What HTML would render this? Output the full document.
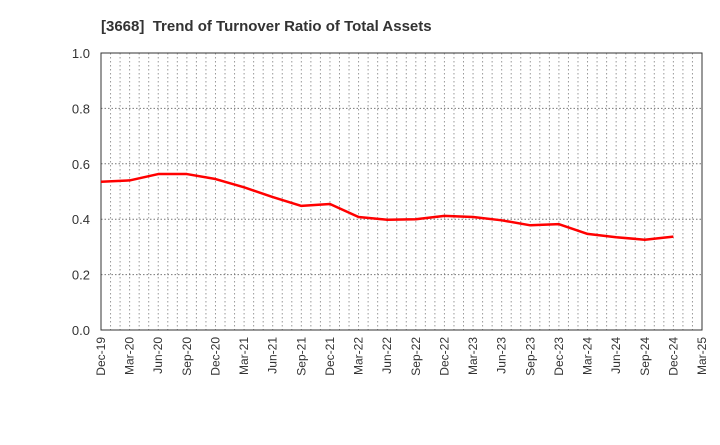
<!DOCTYPE html>
<html><head><meta charset="utf-8"><style>
body{margin:0;background:#fff;font-family:"Liberation Sans",Arial,sans-serif}
</style></head><body>
<svg id="c" width="720" height="440" xmlns="http://www.w3.org/2000/svg">
<text x="101" y="31" font-size="15" font-weight="bold" fill="#333" style="white-space:pre">[3668]  Trend of Turnover Ratio of Total Assets</text>
<g id="grid"></g><g id="axes"></g><g id="series"></g>
</svg>
<script>
const categories=["Dec-19","Mar-20","Jun-20","Sep-20","Dec-20","Mar-21","Jun-21","Sep-21","Dec-21","Mar-22","Jun-22","Sep-22","Dec-22","Mar-23","Jun-23","Sep-23","Dec-23","Mar-24","Jun-24","Sep-24","Dec-24","Mar-25"];
const values=[0.535,0.54,0.563,0.563,0.545,0.515,0.48,0.448,0.455,0.408,0.398,0.4,0.412,0.408,0.396,0.378,0.382,0.347,0.335,0.326,0.337];
const yTicks=[0,0.2,0.4,0.6,0.8,1.0];
const yTickLabels=["0.0","0.2","0.4","0.6","0.8","1.0"];
const L=101,R=702,T=53,B=330;
const NS="http://www.w3.org/2000/svg";
const x=i=>L+(R-L)*i/(categories.length-1);
const y=v=>B-(B-T)*v/1.0;
function mk(tag,attrs,parent){const e=document.createElementNS(NS,tag);for(const k in attrs)e.setAttribute(k,attrs[k]);parent.appendChild(e);return e;}
const g=document.getElementById('grid'),a=document.getElementById('axes'),s=document.getElementById('series');
const nm=(categories.length-1)*3;
for(let m=1;m<nm;m++){const xx=L+(R-L)*m/nm;
const ln=mk('line',{x1:xx,x2:xx,y1:T,y2:B,stroke:'#999','stroke-dasharray':'1.5,2.5','stroke-width':1},g);

}
yTicks.forEach((v,i)=>{
if(v>0&&v<1){const ln=mk('line',{x1:L,x2:R,y1:y(v),y2:y(v),stroke:'#777','stroke-dasharray':'1.5,2','stroke-width':1},g);

}
const t=mk('text',{x:L-11,y:y(v)+5,'font-size':13,fill:'#333','text-anchor':'end'},a);t.textContent=yTickLabels[i];


});
const fr=mk('rect',{x:L,y:T,width:R-L,height:B-T,fill:'none',stroke:'#333','stroke-width':1},a);


categories.forEach((c,i)=>{
const t=mk('text',{x:0,y:0,'font-size':12,fill:'#333','text-anchor':'end',transform:`translate(${x(i)+4},${B+7}) rotate(-90)`},a);t.textContent=c;


});
const p=mk('polyline',{points:values.map((v,i)=>x(i)+','+y(v)).join(' '),fill:'none',stroke:'#f00','stroke-width':2.5,'stroke-linejoin':'round'},s);


</script>
</body></html>
